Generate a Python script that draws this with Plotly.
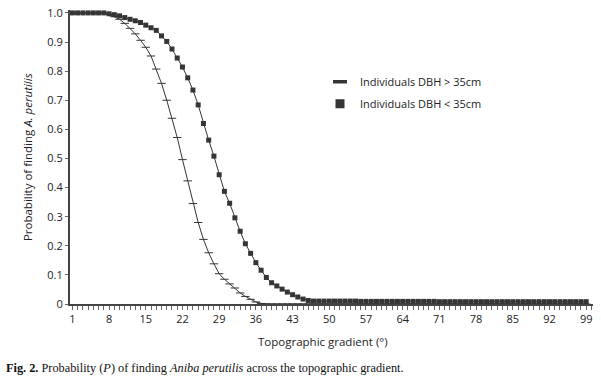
import plotly.graph_objects as go

# ---- data ----
gradient = list(range(1, 100))

p_dbh_gt35 = [
    1.0, 1.0, 1.0, 1.0, 1.0, 1.0, 1.0, 0.995, 0.987, 0.978,
    0.964, 0.947, 0.928, 0.906, 0.882, 0.852, 0.807, 0.758, 0.700, 0.638,
    0.572, 0.496, 0.423, 0.345, 0.280, 0.222, 0.176, 0.138, 0.104, 0.085,
    0.069, 0.055, 0.038, 0.026, 0.016, 0.007, 0.002, 0.0, 0.0, 0.0,
    0.0, 0.0, 0.0, 0.0, 0.0, 0.0, 0.0, 0.0, 0.0, 0.0,
    0.0, 0.0, 0.0, 0.0, 0.0, 0.0, 0.0, 0.0, 0.0, 0.0,
    0.0, 0.0, 0.0, 0.0, 0.0, 0.0, 0.0, 0.0, 0.0, 0.0,
    0.0, 0.0, 0.0, 0.0, 0.0, 0.0, 0.0, 0.0, 0.0, 0.0,
    0.0, 0.0, 0.0, 0.0, 0.0, 0.0, 0.0, 0.0, 0.0, 0.0,
    0.0, 0.0, 0.0, 0.0, 0.0, 0.0, 0.0, 0.0, 0.0,
]

p_dbh_lt35 = [
    1.0, 1.0, 1.0, 1.0, 1.0, 1.0, 1.0, 0.997, 0.994, 0.990,
    0.984, 0.978, 0.973, 0.967, 0.958, 0.949, 0.940, 0.921, 0.902, 0.876,
    0.845, 0.814, 0.777, 0.735, 0.684, 0.620, 0.563, 0.508, 0.444, 0.387,
    0.346, 0.296, 0.250, 0.207, 0.174, 0.142, 0.116, 0.091, 0.073, 0.062,
    0.051, 0.041, 0.032, 0.024, 0.017, 0.012, 0.010, 0.010, 0.010, 0.010,
    0.010, 0.010, 0.010, 0.010, 0.010, 0.009, 0.009, 0.009, 0.009, 0.009,
    0.009, 0.009, 0.009, 0.009, 0.009, 0.009, 0.009, 0.009, 0.009, 0.009,
    0.008, 0.008, 0.008, 0.008, 0.008, 0.008, 0.008, 0.008, 0.008, 0.008,
    0.008, 0.008, 0.008, 0.008, 0.008, 0.008, 0.008, 0.008, 0.008, 0.008,
    0.008, 0.008, 0.008, 0.008, 0.008, 0.008, 0.008, 0.008, 0.008,
]

x_tick_values = [1, 8, 15, 22, 29, 36, 43, 50, 57, 64, 71, 78, 85, 92, 99]
y_tick_values = [0, 0.1, 0.2, 0.3, 0.4, 0.5, 0.6, 0.7, 0.8, 0.9, 1.0]
y_tick_labels = ["0", "0.1", "0.2", "0.3", "0.4", "0.5", "0.6", "0.7", "0.8", "0.9", "1.0"]

series_names = ["Individuals DBH > 35cm", "Individuals DBH < 35cm"]

INK = "#353535"
FONT = "Open Sans"

fig = go.Figure()

fig.add_trace(go.Scatter(
    x=gradient, y=p_dbh_gt35, mode="lines+markers", showlegend=False,
    line=dict(color=INK, width=1),
    marker=dict(symbol="line-ew", size=6, line=dict(color=INK, width=1)),
    cliponaxis=False,
))
fig.add_trace(go.Scatter(
    x=gradient, y=p_dbh_lt35, mode="lines+markers", showlegend=False,
    line=dict(color=INK, width=1),
    marker=dict(symbol="square", size=5, color=INK),
    cliponaxis=False,
))

# legend entries (marker only, as in the reference)
fig.add_trace(go.Scatter(
    x=[None], y=[None], mode="markers", name=series_names[0], legendgroup="a",
    marker=dict(symbol="line-ew", size=10, line=dict(color=INK, width=3.5)),
))
fig.add_trace(go.Scatter(
    x=[None], y=[None], mode="markers", name=series_names[1], legendgroup="b",
    marker=dict(symbol="square", size=9, color=INK),
))

fig.update_layout(
    width=601, height=381,
    margin=dict(l=70, r=8, t=5, b=77),
    paper_bgcolor="white", plot_bgcolor="white",
    font=dict(family=FONT, size=11, color="#222"),
    showlegend=True,
    legend=dict(
        x=0.478, y=0.805, xanchor="left", yanchor="top",
        bgcolor="rgba(0,0,0,0)", font=dict(family=FONT, size=11, color="#222"),
        tracegroupgap=3, itemwidth=30,
    ),
    xaxis=dict(
        range=[0.55, 100.3], showgrid=False, zeroline=False,
        showline=True, linecolor="#444", linewidth=2,
        tickmode="array", tickvals=x_tick_values,
        ticks="outside", ticklen=4, tickcolor="#666", tickwidth=1,
        minor=dict(dtick=1, tick0=0, ticks="outside", ticklen=4, tickcolor="#666", tickwidth=1),
        tickfont=dict(family=FONT, size=11, color="#222"),
        ticklabeloverflow="allow",
    ),
    yaxis=dict(
        range=[0, 1.01], showgrid=False, zeroline=False,
        showline=True, linecolor="#444", linewidth=2,
        tickmode="array", tickvals=y_tick_values, ticktext=y_tick_labels,
        ticks="outside", ticklen=3, tickcolor="#666", tickwidth=1,
        tickfont=dict(family=FONT, size=11, color="#222"),
        ticklabeloverflow="allow",
    ),
    annotations=[
        dict(text="Probability of finding <i>A. perutilis</i>", textangle=-90,
             xref="paper", yref="paper", x=-0.082, y=0.5, xanchor="center", yanchor="middle",
             showarrow=False, font=dict(family=FONT, size=11.5, color="#222")),
        dict(text="Topographic gradient (°)",
             xref="paper", yref="paper", x=0.483, y=-0.128, xanchor="center", yanchor="middle",
             showarrow=False, font=dict(family=FONT, size=11.5, color="#222")),
        dict(text="<b>Fig. 2.</b> Probability (<i>P</i>) of finding <i>Aniba perutilis</i> across the topographic gradient.",
             xref="paper", yref="paper", x=-0.127, y=-0.218, xanchor="left", yanchor="middle",
             showarrow=False, font=dict(family="Liberation Serif", size=12.3, color="#111")),
    ],
)

fig.write_html(
    "out.html",
    config={"displayModeBar": False},
    post_script="document.body.style.margin='0';document.body.style.padding='0';",
)
